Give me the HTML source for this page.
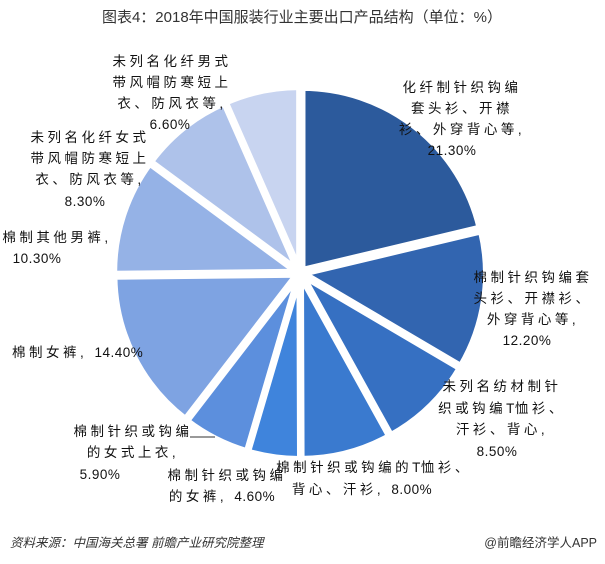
<!DOCTYPE html>
<html><head><meta charset="utf-8">
<style>
html,body{margin:0;padding:0;background:#fff;}
svg{display:block;font-family:"Liberation Sans","Noto Sans CJK SC",sans-serif;}
.l{font-size:13.5px;fill:#111;letter-spacing:3.5px;text-anchor:middle;}
.ls{font-size:13.5px;fill:#111;letter-spacing:3.5px;}
.n{letter-spacing:0.5px;}
</style></head><body>
<svg id="s" width="605" height="564" viewBox="0 0 605 564">
<text x="302" y="22" font-size="15" fill="#333" text-anchor="middle">图表4：2018年中国服装行业主要出口产品结构（单位：%）</text>
<g id="pie"></g>
<text class="l" x="462" y="92">化纤制针织钩编</text>
<text class="l" x="462" y="113">套头衫、开襟</text>
<text class="l" x="462" y="134">衫、外穿背心等,</text>
<text class="l n" x="452" y="155">21.30%</text>
<text class="l" x="533" y="282">棉制针织钩编套</text>
<text class="l" x="533" y="303">头衫、开襟衫、</text>
<text class="l" x="533" y="324">外穿背心等,</text>
<text class="l n" x="527" y="345">12.20%</text>
<text class="l" x="502" y="391">未列名纺材制针</text>
<text class="l" x="502" y="413">织或钩编<tspan class="n">T</tspan>恤衫、</text>
<text class="l" x="502" y="434">汗衫、背心,</text>
<text class="l n" x="497" y="456">8.50%</text>
<text class="l" x="374" y="472">棉制针织或钩编的<tspan class="n">T</tspan>恤衫、</text>
<text class="l" x="362" y="494">背心、汗衫, <tspan class="n">8.00%</tspan></text>
<text class="l" x="227" y="480">棉制针织或钩编</text>
<text class="l" x="222" y="501">的女裤, <tspan class="n">4.60%</tspan></text>
<text class="l" x="133" y="436">棉制针织或钩编</text>
<text class="l" x="133" y="457">的女式上衣,</text>
<text class="l n" x="100" y="479">5.90%</text>
<line x1="190" y1="437" x2="215" y2="437" stroke="#333" stroke-width="1"/>
<text class="ls" x="12" y="357">棉制女裤, <tspan class="n">14.40%</tspan></text>
<text class="l" x="57" y="242">棉制其他男裤,</text>
<text class="l n" x="37" y="263">10.30%</text>
<text class="l" x="90" y="142">未列名化纤女式</text>
<text class="l" x="90" y="163">带风帽防寒短上</text>
<text class="l" x="90" y="184">衣、防风衣等,</text>
<text class="l n" x="85" y="206">8.30%</text>
<text class="l" x="172" y="66">未列名化纤男式</text>
<text class="l" x="172" y="87">带风帽防寒短上</text>
<text class="l" x="172" y="108">衣、防风衣等,</text>
<text class="l n" x="170" y="129">6.60%</text>
<text x="10" y="547" font-size="12.5" fill="#333" font-style="italic">资料来源：中国海关总署 前瞻产业研究院整理</text>
<text x="597" y="547" font-size="12.5" fill="#333" text-anchor="end">@前瞻经济学人APP</text>
</svg>
<script>
var vals=[21.3,12.2,8.5,8.0,4.6,5.9,14.4,10.3,8.3,6.6];
var cols=["#2c5a9c","#3265b0","#3670c2","#3a7acf","#3f84dc","#5c8fdd","#7ea3e2","#95b2e6","#aec2ea","#c8d4f0"];
var cx=300,cy=273,r=182,off=4,tot=100.1,a=0,g=document.getElementById("pie"),h="";
function pt(x,y,ang,rr){return [x+rr*Math.sin(ang),y-rr*Math.cos(ang)];}
for(var i=0;i<vals.length;i++){
 var a0=a/tot*2*Math.PI;a+=vals[i];var a1=a/tot*2*Math.PI;var m=(a0+a1)/2;
 var c=pt(cx,cy,m,off),p0=pt(c[0],c[1],a0,r),p1=pt(c[0],c[1],a1,r);
 var lg=(a1-a0)>Math.PI?1:0;
 h+='<path d="M'+c[0]+' '+c[1]+' L'+p0[0]+' '+p0[1]+' A'+r+' '+r+' 0 '+lg+' 1 '+p1[0]+' '+p1[1]+' Z" fill="'+cols[i]+'" stroke="#fff" stroke-width="6" stroke-linejoin="miter"/>';
}
g.innerHTML=h;
</script>
</body></html>
